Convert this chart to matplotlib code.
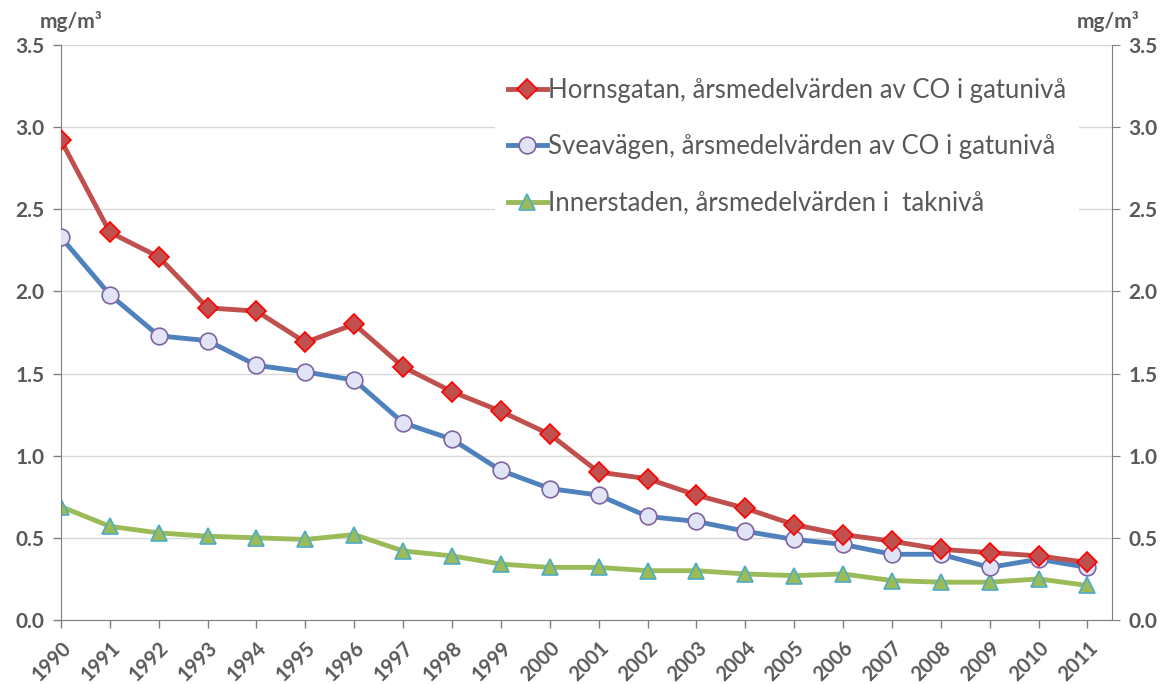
import matplotlib.pyplot as plt
import numpy as np

years = list(range(1990, 2012))
hornsgatan = [2.92, 2.36, 2.21, 1.90, 1.88, 1.69, 1.80, 1.54, 1.39, 1.27, 1.13,
              0.90, 0.86, 0.76, 0.68, 0.58, 0.52, 0.48, 0.43, 0.41, 0.39, 0.35]
sveavagen = [2.33, 1.98, 1.73, 1.70, 1.55, 1.51, 1.46, 1.20, 1.10, 0.91, 0.80,
             0.76, 0.63, 0.60, 0.54, 0.49, 0.46, 0.40, 0.40, 0.32, 0.37, 0.32]
innerstaden = [0.69, 0.57, 0.53, 0.51, 0.50, 0.49, 0.52, 0.42, 0.39, 0.34, 0.32,
               0.32, 0.30, 0.30, 0.28, 0.27, 0.28, 0.24, 0.23, 0.23, 0.25, 0.21]
labels = ["Hornsgatan, årsmedelvärden av CO i gatunivå",
          "Sveavägen, årsmedelvärden av CO i gatunivå",
          "Innerstaden, årsmedelvärden i  taknivå"]
yticks = [0.0, 0.5, 1.0, 1.5, 2.0, 2.5, 3.0, 3.5]

plt.rcParams['font.family'] = ['Lato', 'DejaVu Sans']
grey = '#595959'

fig = plt.figure(figsize=(11.68, 6.84), dpi=100)
ax = fig.add_axes([0.0522, 0.0936, 0.8998, 0.8406])

ax.plot(years, hornsgatan, color='#C0504D', lw=3.5, marker='D', ms=10,
        mfc='#C0504D', mec='#FF0000', mew=1.2, label=labels[0], zorder=4)
ax.plot(years, sveavagen, color='#4F81BD', lw=3.5, marker='o', ms=12,
        mfc='#E0E4F4', mec='#8064A2', mew=1.2, label=labels[1], zorder=3)
ax.plot(years, innerstaden, color='#9BBB59', lw=3.5, marker='^', ms=12,
        mfc='#9BBB59', mec='#4BACC6', mew=1.2, label=labels[2], zorder=2)

ax.set_xlim(1990, 2011.5)
ax.set_ylim(0, 3.5)
ax.set_yticks(yticks)
ax.set_yticklabels([f"{v:.1f}" for v in yticks], fontsize=15, fontweight='bold', color=grey)
ax.set_xticks(years)
ax.set_xticklabels([str(y) for y in years], rotation=45, ha='right', rotation_mode='anchor',
                   fontsize=14.5, fontweight='bold', color=grey)
ax.grid(axis='y', color='#D9D9D9', lw=1)
ax.set_axisbelow(True)
for s in ['top', 'right']:
    ax.spines[s].set_visible(False)
ax.spines['left'].set_color('#7F7F7F')
ax.spines['bottom'].set_color('#7F7F7F')
ax.tick_params(axis='both', direction='out', length=6, color='#7F7F7F', width=1)
ax.tick_params(axis='y', pad=6)
ax.tick_params(axis='x', pad=7)

ax2 = ax.twinx()
ax2.set_ylim(0, 3.5)
ax2.set_yticks(yticks)
ax2.set_yticklabels([f"{v:.1f}" for v in yticks], fontsize=15, fontweight='bold', color=grey)
for s in ['top', 'left', 'bottom']:
    ax2.spines[s].set_visible(False)
ax2.spines['right'].set_color('#7F7F7F')
ax2.tick_params(axis='y', direction='out', length=6, color='#7F7F7F', pad=6)

fig.text(0.034, 0.968, "mg/m³", fontsize=15, fontweight='bold', color=grey, va='center')
fig.text(0.922, 0.968, "mg/m³", fontsize=15, fontweight='bold', color=grey, va='center')

leg = ax.legend(loc='upper left', bbox_to_anchor=(0.424, 0.905), bbox_transform=fig.transFigure,
                frameon=True, facecolor='white', edgecolor='none', framealpha=1,
                fontsize=18.5, labelcolor=grey, handlelength=1.5, handletextpad=0.05,
                labelspacing=1.22, borderaxespad=0, borderpad=0.5, fancybox=False)

fig.savefig('out.png', dpi=100)
